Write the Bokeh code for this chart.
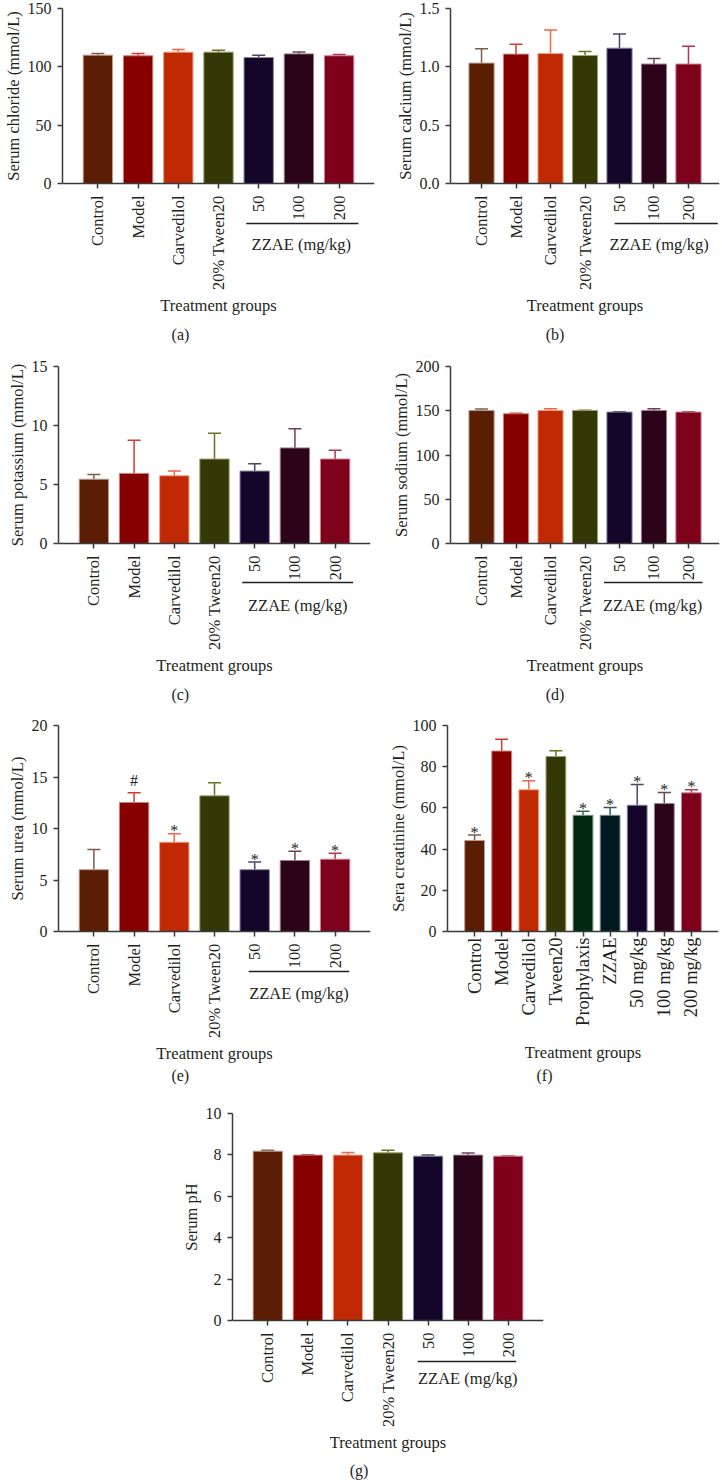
import math
from bokeh.plotting import figure
from bokeh.models import (FactorRange, Range1d, FixedTicker, NumeralTickFormatter,
                          Label, Arrow, ColumnDataSource, Title)
from bokeh.layouts import column, row
from bokeh.embed import file_html
from bokeh.resources import INLINE
from bokeh.core.properties import value

FONT = "Liberation Serif"
INK = "#231f20"
AXIS = "#3a3a3a"
TITLE_FS = 16.5

# ---------------- data ----------------
groups = ["Control", "Model", "Carvedilol", "20% Tween20", "50", "100", "200"]
groups_f = ["Control", "Model", "Carvedilol", "Tween20", "Prophylaxis", "ZZAE",
            "50 mg/kg", "100 mg/kg", "200 mg/kg"]
zzae_label = "ZZAE (mg/kg)"
x_title = "Treatment groups"

chloride_mean = [110.0, 109.5, 112.6, 112.6, 108.0, 111.1, 109.5]
chloride_err = [1.4, 1.9, 2.2, 1.7, 2.0, 1.7, 1.1]

calcium_mean = [1.032, 1.109, 1.114, 1.097, 1.160, 1.024, 1.024]
calcium_err = [0.122, 0.085, 0.201, 0.034, 0.121, 0.047, 0.152]

potassium_mean = [5.45, 5.94, 5.74, 7.16, 6.14, 8.10, 7.16]
potassium_err = [0.40, 2.81, 0.40, 2.19, 0.62, 1.62, 0.74]

sodium_mean = [150.4, 146.6, 150.4, 150.4, 148.5, 150.4, 148.5]
sodium_err = [1.5, 0.7, 1.8, 0.3, 0.3, 1.8, 0.3]

urea_mean = [6.0, 12.52, 8.67, 13.17, 6.0, 6.89, 7.02]
urea_err = [1.97, 0.94, 0.81, 1.26, 0.74, 0.91, 0.58]
urea_marks = ["", "#", "*", "", "*", "*", "*"]

creat_mean = [44.2, 87.6, 68.8, 85.0, 56.4, 56.4, 61.3, 62.1, 67.3]
creat_err = [2.6, 5.7, 4.4, 2.8, 2.0, 3.8, 10.1, 5.4, 1.5]
creat_marks = ["*", "", "*", "", "*", "*", "*", "*", "*"]

ph_mean = [8.18, 7.99, 7.99, 8.10, 7.94, 7.99, 7.94]
ph_err = [0.05, 0.02, 0.13, 0.13, 0.05, 0.10, 0.01]

# ---------------- colours ----------------
fill7 = ["#5b1e05", "#860000", "#bf2a05", "#333806", "#13062a", "#2b041a", "#7f001b"]
err7 = ["#7d5c4c", "#d63a2a", "#f0674a", "#6b7326", "#4c4468", "#6d4259", "#b83450"]
edge7 = ["#b89c8e", "#c88080", "#f0a080", "#9fa070", "#8a84a0", "#9a8090", "#cc7f90"]

fill9 = ["#5b1e05", "#860000", "#bf2a05", "#333806", "#00290f", "#001a20",
         "#13062a", "#2b041a", "#7f001b"]
err9 = ["#7d5c4c", "#d63a2a", "#f0674a", "#6b7326", "#3c6640", "#3a5560",
        "#4c4468", "#6d4259", "#b83450"]
edge9 = ["#b89c8e", "#c88080", "#f0a080", "#9fa070", "#7a9a80", "#7a9098",
         "#8a84a0", "#9a8090", "#cc7f90"]

MARK_OFFSET = {"*": -3, "#": -12, "": 0}

# approximate Times-style advance widths (per 1000 em) to centre the y titles
CW = {" ": 250, "(": 333, ")": 333, "/": 278, "L": 611, "S": 556, "H": 722, "a": 444,
      "c": 444, "d": 500, "e": 444, "h": 500, "i": 278, "l": 278, "m": 778, "n": 500,
      "o": 500, "p": 500, "r": 333, "s": 389, "t": 278, "u": 500}


def text_len(s, size=TITLE_FS):
    return sum(CW.get(ch, 500) for ch in s) * size / 1000.0


def make_panel(factors, means, errs, fills, errc, edges, ymax, yticks, ylabel, caption,
               fl, fw, fh, below, mbl, mbr, mbt, pad, cap_x, cap_y,
               bracket=None, marks=None, yfmt=None, xfs="16.5px", x_std=7, xlab_std=3):
    n = len(factors)
    ylo = -ymax * below / fh
    p = figure(x_range=FactorRange(factors=factors, range_padding=pad,
                                   range_padding_units="absolute"),
               y_range=Range1d(ylo, ymax), frame_width=fw, frame_height=fh + below,
               min_border_left=mbl, min_border_right=mbr, min_border_top=mbt,
               min_border_bottom=0, output_backend="svg", toolbar_location=None)
    p.xgrid.visible = False
    p.ygrid.visible = False
    p.outline_line_color = None

    x0 = -pad / 2.0
    span = n + pad

    def xd(px):
        return x0 + (px - fl) * span / fw

    def yd(px_below):
        return -px_below * ymax / fh

    ups = [m + e for m, e in zip(means, errs)]
    data = dict(x=factors, top=means, up=ups, fill=fills, ecol=errc, edge=edges)
    if marks is not None:
        data["mark"] = marks
        data["moff"] = [MARK_OFFSET[m] for m in marks]
    src = ColumnDataSource(data)

    p.segment(x0="x", y0="top", x1="x", y1="up", line_color="ecol", line_width=1.5, source=src)
    p.scatter(x="x", y="up", marker="dash", size=13, line_color="ecol", line_width=1.5,
              source=src)
    p.vbar(x="x", top="top", width=0.73, fill_color="fill", line_color="edge",
           line_width=1, source=src)
    if marks is not None:
        p.text(x="x", y="up", text="mark", source=src, text_align="center",
               text_baseline="alphabetic", y_offset="moff",
               text_font=value(FONT), text_font_size=value("16px"), text_color=INK)

    # y axis; its title is a side title centred on the bar area
    ya = p.yaxis[0]
    ya.ticker = FixedTicker(ticks=yticks)
    ya.bounds = (0, ymax)
    if yfmt:
        ya.formatter = NumeralTickFormatter(format=yfmt)
    ya.minor_tick_line_color = None
    ya.major_tick_out = 5
    ya.major_tick_in = 0
    ya.major_label_standoff = 6
    yt = Title(text=ylabel, align="right", offset=(fh - text_len(ylabel)) / 2.0,
               text_font=FONT, text_font_size=f"{TITLE_FS}px", text_font_style="normal",
               text_color=INK)
    try:
        yt.standoff = 3
    except AttributeError:
        pass
    p.add_layout(yt, "left")
    # x axis, pinned at y = 0
    xa = p.xaxis[0]
    xa.fixed_location = 0
    xa.axis_label = x_title
    xa.major_label_orientation = math.pi / 2
    xa.major_tick_out = 5
    xa.major_tick_in = 0
    xa.major_label_standoff = x_std
    xa.axis_label_standoff = xlab_std
    for ax in (xa, ya):
        ax.axis_line_color = AXIS
        ax.axis_line_width = 1.5
        ax.major_tick_line_color = AXIS
        ax.major_tick_line_width = 1.5
        ax.major_label_text_font = FONT
        ax.major_label_text_color = INK
        ax.axis_label_text_font = FONT
        ax.axis_label_text_font_style = "normal"
        ax.axis_label_text_font_size = f"{TITLE_FS}px"
        ax.axis_label_text_color = INK
    ya.major_label_text_font_size = "16px"
    xa.major_label_text_font_size = xfs

    if bracket is not None:
        b0, b1, bt, by, ty = bracket
        p.add_layout(Arrow(x_start=b0 + 0.5, y_start=yd(by), x_end=b1 + 0.5, y_end=yd(by),
                           end=None, line_color=INK, line_width=1.3))
        p.add_layout(Label(x=bt + 0.5, y=yd(ty), text=zzae_label, text_align="center",
                           text_baseline="middle", text_font=FONT, text_font_size="16.5px",
                           text_color=INK))
    p.add_layout(Label(x=xd(cap_x), y=yd(cap_y), text=caption, text_align="center",
                       text_baseline="middle", text_font=FONT, text_font_size="16px",
                       text_color=INK))
    return p


# row 1 : y 0..357
pa = make_panel(groups, chloride_mean, chloride_err, fill7, err7, edge7, 150, [0, 50, 100, 150],
                "Serum chloride (mmol/L)", "(a)", fl=62, fw=312, fh=175, below=174, mbl=62,
                mbr=18, mbt=8, pad=0.38, cap_x=178, cap_y=151,
                bracket=(3.69, 6.48, 5.06, 40, 61))
pb = make_panel(groups, calcium_mean, calcium_err, fill7, err7, edge7, 1.5, [0, 0.5, 1.0, 1.5],
                "Serum calcium (mmol/L)", "(b)", fl=450, fw=269, fh=175, below=174, mbl=58,
                mbr=3, mbt=8, pad=0.4, cap_x=553, cap_y=151,
                bracket=(3.86, 6.85, 5.15, 40, 61), yfmt="0.0")
# row 2 : y 357..717
pc = make_panel(groups, potassium_mean, potassium_err, fill7, err7, edge7, 15, [0, 5, 10, 15],
                "Serum potassium (mmol/L)", "(c)", fl=58, fw=312, fh=177, below=174, mbl=58,
                mbr=18, mbt=9, pad=0.38, cap_x=178, cap_y=151,
                bracket=(3.69, 6.45, 5.07, 39, 62))
pd_ = make_panel(groups, sodium_mean, sodium_err, fill7, err7, edge7, 200, [0, 50, 100, 150, 200],
                 "Serum sodium (mmol/L)", "(d)", fl=450, fw=269, fh=177, below=174, mbl=62,
                 mbr=3, mbt=9, pad=0.4, cap_x=553, cap_y=151,
                 bracket=(3.55, 6.41, 4.96, 39, 62))
# row 3 : y 717..1100
pe = make_panel(groups, urea_mean, urea_err, fill7, err7, edge7, 20, [0, 5, 10, 15, 20],
                "Serum urea (mmol/L)", "(e)", fl=58, fw=312, fh=206, below=169, mbl=58,
                mbr=15, mbt=8, pad=0.38, cap_x=178, cap_y=144,
                bracket=(3.85, 6.35, 5.1, 40, 62), marks=urea_marks)
pf = make_panel(groups_f, creat_mean, creat_err, fill9, err9, edge9, 100, [0, 20, 40, 60, 80, 100],
                "Sera creatinine (mmol/L)", "(f)", fl=447, fw=271, fh=206, below=169, mbl=62,
                mbr=4, mbt=8, pad=0.5, cap_x=542, cap_y=144, marks=creat_marks,
                xfs="18.5px", x_std=1, xlab_std=14)
# row 4 : y 1100..1480
pg = make_panel(groups, ph_mean, ph_err, fill7, err7, edge7, 10, [0, 2, 4, 6, 8, 10],
                "Serum pH", "(g)", fl=232, fw=311, fh=207, below=160, mbl=232, mbr=179,
                mbt=13, pad=0.38, cap_x=357, cap_y=150,
                bracket=(3.74, 6.2, 4.99, 41, 58))

layout = column(row(pa, pb, spacing=0), row(pc, pd_, spacing=0), row(pe, pf, spacing=0), pg,
                spacing=0)

open("out.html", "w").write(file_html(layout, INLINE))
